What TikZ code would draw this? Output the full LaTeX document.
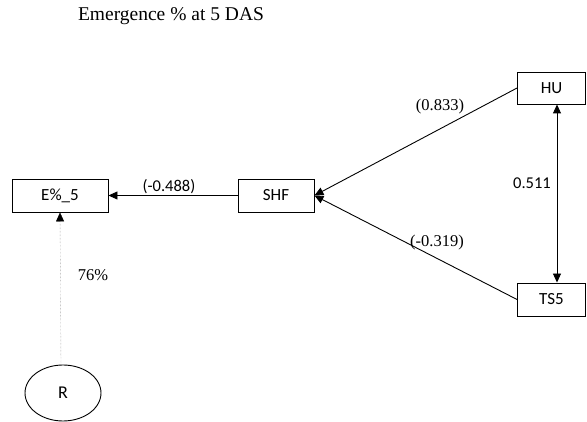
\documentclass[tikz,border=0pt]{standalone}
\usepackage{fontspec}
\setmainfont{Liberation Serif}
\newfontfamily\calib{Carlito}
\usetikzlibrary{arrows.meta,shapes.geometric}

\tikzset{
  box/.style={draw,line width=0.9pt,inner sep=0pt,minimum height=33pt,font=\calib\fontsize{17}{19}\selectfont},
  arr/.style={line width=0.9pt,-{Triangle[length=9pt,width=8pt]}},
  serlab/.style={font=\fontsize{16.5}{18}\selectfont},
  sanlab/.style={font=\calib\fontsize{16.5}{18}\selectfont}
}

\begin{document}
\begin{tikzpicture}[x=1pt,y=-1pt]
\useasboundingbox (0,0) rectangle (587,422);

\node[font=\fontsize{19.5}{22}\selectfont] (title) at (171,16) {Emergence \% at 5 DAS};

% boxes
\node[box,minimum width=96pt] (e5) at (60,195.5) {E\%\_5};
\node[box,minimum width=76pt] (shf) at (276,195.5) {SHF};
\node[box,minimum width=68pt,minimum height=32pt] (hu) at (551.5,88) {HU};
\node[box,minimum width=68pt] (ts5) at (551.5,299.5) {TS5};
\node[draw,ellipse,line width=0.9pt,minimum width=76pt,minimum height=56pt,font=\calib\fontsize{18}{20}\selectfont] (r) at (63,393) {R};

% paths
\draw[arr] (shf) -- (e5);
\draw[arr] (hu.west) -- (shf.east);
\draw[arr] (ts5.west) -- (shf.east);
\draw[line width=0.9pt,{Triangle[length=9pt,width=8pt]}-{Triangle[length=9pt,width=8pt]}] ([xshift=5.5pt]hu.south) -- ([xshift=5.5pt]ts5.north);
\draw[gray,densely dotted,thin,arrows={-{Triangle[length=9pt,width=8pt,black]}}] ([xshift=-2pt]r.north) -- (e5.south);

% labels
\node[sanlab] (l488) at (169,187) {(-0.488)};
\node[serlab] (l833) at (440,107) {(0.833)};
\node[sanlab] (l511) at (532,183) {0.511};
\node[serlab] (l319) at (437,243) {(-0.319)};
\node[serlab] (l76) at (93,275) {76\%};

\end{tikzpicture}
\end{document}
